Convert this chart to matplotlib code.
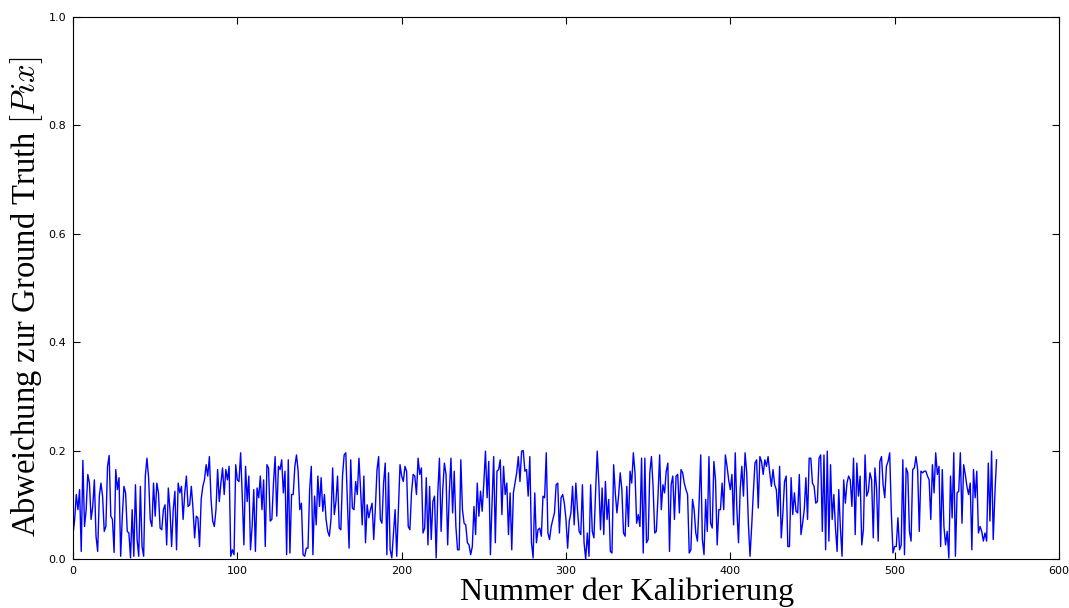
import matplotlib
matplotlib.use("Agg")
import matplotlib.pyplot as plt
import numpy as np

deviation = [
    # 0-46
    0.045, 0.073, 0.119, 0.091, 0.128, 0.014, 0.182, 0.060, 0.091, 0.156,
    0.140, 0.073, 0.097, 0.146, 0.042, 0.014, 0.116, 0.140, 0.116, 0.051,
    0.060, 0.171, 0.191, 0.079, 0.073, 0.012, 0.165, 0.128, 0.150, 0.005,
    0.079, 0.134, 0.122, 0.051, 0.048, 0.002, 0.091, 0.005, 0.137, 0.036,
    0.005, 0.134, 0.023, 0.005, 0.153, 0.186, 0.150,
    # 47-93
    0.073, 0.060, 0.140, 0.079, 0.140, 0.122, 0.057, 0.054, 0.091, 0.100,
    0.026, 0.131, 0.091, 0.023, 0.091, 0.125, 0.017, 0.140, 0.122, 0.134,
    0.073, 0.122, 0.153, 0.097, 0.100, 0.134, 0.094, 0.039, 0.079, 0.076,
    0.023, 0.110, 0.134, 0.146, 0.174, 0.153, 0.189, 0.110, 0.070, 0.060,
    0.091, 0.165, 0.106, 0.140, 0.168, 0.119, 0.165,
    # 94-141
    0.146, 0.171, 0.005, 0.017, 0.008, 0.174, 0.146, 0.143, 0.196, 0.116,
    0.026, 0.171, 0.106, 0.153, 0.017, 0.060, 0.128, 0.014, 0.131, 0.113,
    0.153, 0.091, 0.146, 0.023, 0.174, 0.168, 0.070, 0.073, 0.140, 0.189,
    0.079, 0.171, 0.165, 0.183, 0.122, 0.162, 0.008, 0.183, 0.011, 0.119,
    0.119, 0.171, 0.192, 0.162, 0.091, 0.103, 0.008, 0.005,
    # 142-188
    0.020, 0.020, 0.128, 0.171, 0.008, 0.116, 0.063, 0.153, 0.097, 0.150,
    0.088, 0.119, 0.073, 0.051, 0.042, 0.073, 0.168, 0.082, 0.106, 0.153,
    0.057, 0.054, 0.153, 0.192, 0.196, 0.103, 0.020, 0.183, 0.094, 0.091,
    0.143, 0.119, 0.186, 0.128, 0.063, 0.153, 0.030, 0.100, 0.076, 0.091,
    0.103, 0.036, 0.094, 0.165, 0.189, 0.073, 0.066,
    # 189-236
    0.140, 0.177, 0.008, 0.159, 0.017, 0.002, 0.048, 0.091, 0.005, 0.091,
    0.174, 0.153, 0.143, 0.171, 0.162, 0.060, 0.054, 0.122, 0.156, 0.153,
    0.119, 0.186, 0.156, 0.168, 0.048, 0.057, 0.150, 0.026, 0.134, 0.036,
    0.106, 0.116, 0.002, 0.122, 0.186, 0.051, 0.128, 0.177, 0.156, 0.026,
    0.122, 0.186, 0.085, 0.162, 0.060, 0.017, 0.017, 0.183,
    # 237-283
    0.091, 0.066, 0.063, 0.030, 0.026, 0.008, 0.023, 0.097, 0.045, 0.140,
    0.079, 0.125, 0.088, 0.140, 0.199, 0.113, 0.180, 0.008, 0.103, 0.189,
    0.030, 0.162, 0.165, 0.183, 0.082, 0.171, 0.119, 0.140, 0.045, 0.122,
    0.017, 0.122, 0.140, 0.159, 0.189, 0.143, 0.199, 0.200, 0.162, 0.165,
    0.116, 0.189, 0.030, 0.002, 0.122, 0.030, 0.054,
    # 284-331
    0.057, 0.042, 0.116, 0.113, 0.196, 0.048, 0.036, 0.060, 0.073, 0.085,
    0.137, 0.140, 0.048, 0.113, 0.119, 0.103, 0.073, 0.020, 0.070, 0.085,
    0.134, 0.063, 0.140, 0.091, 0.051, 0.045, 0.137, 0.030, 0.000, 0.048,
    0.005, 0.137, 0.051, 0.039, 0.122, 0.199, 0.140, 0.054, 0.131, 0.045,
    0.143, 0.073, 0.110, 0.014, 0.011, 0.174, 0.122, 0.085,
    # 332-378
    0.116, 0.159, 0.128, 0.048, 0.042, 0.134, 0.060, 0.162, 0.140, 0.196,
    0.159, 0.066, 0.082, 0.060, 0.186, 0.011, 0.186, 0.030, 0.036, 0.159,
    0.189, 0.134, 0.048, 0.051, 0.116, 0.192, 0.091, 0.137, 0.122, 0.162,
    0.177, 0.014, 0.137, 0.153, 0.073, 0.153, 0.156, 0.085, 0.165, 0.159,
    0.140, 0.128, 0.119, 0.011, 0.017, 0.110, 0.091,
    # 379-426
    0.048, 0.033, 0.103, 0.192, 0.036, 0.008, 0.110, 0.051, 0.189, 0.066,
    0.057, 0.180, 0.146, 0.026, 0.091, 0.091, 0.140, 0.091, 0.192, 0.171,
    0.146, 0.128, 0.156, 0.063, 0.196, 0.091, 0.030, 0.128, 0.171, 0.116,
    0.196, 0.159, 0.066, 0.005, 0.060, 0.122, 0.177, 0.183, 0.094, 0.189,
    0.180, 0.156, 0.183, 0.171, 0.189, 0.159, 0.134, 0.165,
    # 427-474
    0.137, 0.128, 0.079, 0.171, 0.039, 0.085, 0.143, 0.153, 0.023, 0.023,
    0.150, 0.082, 0.122, 0.088, 0.085, 0.156, 0.045, 0.066, 0.091, 0.150,
    0.073, 0.186, 0.186, 0.140, 0.134, 0.103, 0.106, 0.186, 0.192, 0.051,
    0.192, 0.017, 0.199, 0.033, 0.174, 0.073, 0.119, 0.057, 0.014, 0.128,
    0.057, 0.005, 0.146, 0.103, 0.140, 0.153, 0.146, 0.097,
    # 475-521
    0.186, 0.045, 0.177, 0.116, 0.153, 0.026, 0.054, 0.192, 0.116, 0.125,
    0.159, 0.146, 0.039, 0.168, 0.131, 0.033, 0.180, 0.189, 0.137, 0.113,
    0.171, 0.180, 0.196, 0.085, 0.011, 0.023, 0.023, 0.076, 0.017, 0.026,
    0.183, 0.008, 0.168, 0.159, 0.051, 0.033, 0.165, 0.168, 0.189, 0.165,
    0.051, 0.162, 0.159, 0.162, 0.162, 0.153, 0.146,
    # 522-562
    0.073, 0.174, 0.122, 0.196, 0.156, 0.171, 0.023, 0.165, 0.060, 0.026,
    0.051, 0.002, 0.153, 0.076, 0.196, 0.005, 0.122, 0.125, 0.196, 0.066,
    0.174, 0.156, 0.134, 0.119, 0.140, 0.017, 0.165, 0.113, 0.162, 0.048,
    0.060, 0.051, 0.033, 0.048, 0.033, 0.177, 0.070, 0.199, 0.036, 0.119,
    0.183,
]
calibration = np.arange(len(deviation))

xlabel = "Nummer der Kalibrierung"
ylabel = r"Abweichung zur Ground Truth $[Pix]$"

plt.rcParams["mathtext.fontset"] = "cm"

fig = plt.figure(figsize=(10.69, 6.08), dpi=100, facecolor="white")
ax = fig.add_axes([0.0683, 0.0806, 0.9223, 0.8914])
ax.plot(calibration, deviation, color="blue", linewidth=1.0)
ax.set_xlim(0, 600)
ax.set_ylim(0, 1.0)
ax.set_xticks(np.arange(0, 601, 100))
ax.set_yticks(np.arange(0, 1.01, 0.2))
ax.set_yticklabels([f"{v:.1f}" for v in np.arange(0, 1.01, 0.2)])
ax.tick_params(direction="in", top=True, right=True, labelsize=8, length=5, pad=5)
for s in ax.spines.values():
    s.set_linewidth(0.8)
ax.set_xlabel(xlabel, fontsize=23, family="Liberation Serif")
ax.set_ylabel(ylabel, fontsize=23.5, family="Liberation Serif")
ax.xaxis.set_label_coords(0.562, -0.035)
ax.yaxis.set_label_coords(-0.028, 0.484)

fig.savefig("out.png", dpi=100, facecolor="white")
